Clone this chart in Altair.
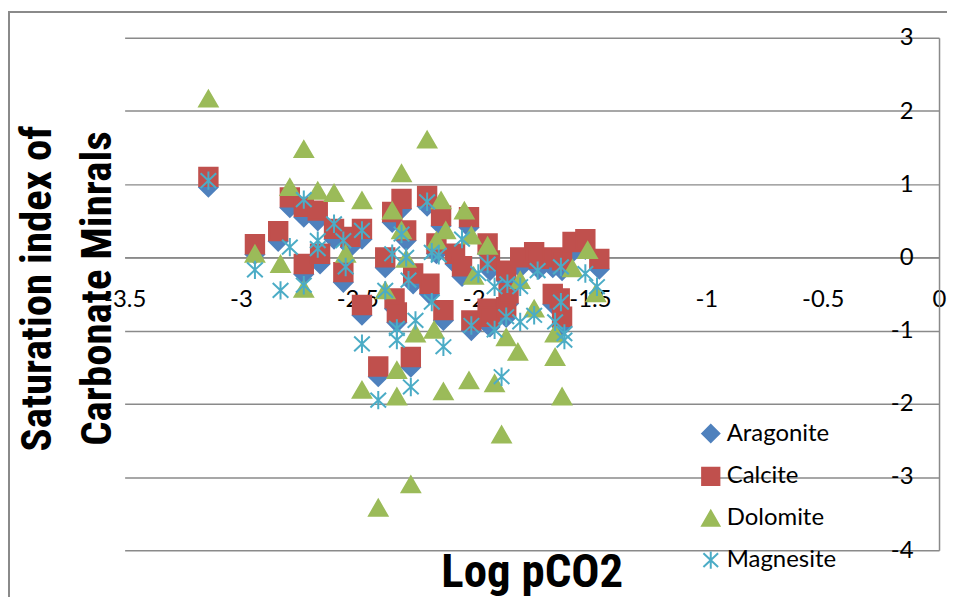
import altair as alt
import pandas as pd

minerals = ["Aragonite", "Calcite", "Dolomite", "Magnesite"]
colors_fill = ["#4F81BD", "#C0504D", "#9BBB59", "transparent"]
colors_stroke = ["#4F81BD", "#C0504D", "#9BBB59", "#4BACC6"]
asterisk = "M0,-1L0,1M-0.85,-0.8L0.85,0.8M-0.85,0.8L0.85,-0.8"
shapes = ["diamond", "square", "triangle-up", asterisk]

x_ticks = [-3.5, -3, -2.5, -2, -1.5, -1, -0.5, 0]
y_ticks = [-4, -3, -2, -1, 0, 1, 2, 3]

calc_x = [-3.14, -2.94, -2.84, -2.79, -2.73, -2.73, -2.67, -2.66, -2.60, -2.56, -2.53, -2.48, -2.48,
          -2.41, -2.38, -2.35, -2.34, -2.33, -2.31, -2.29, -2.27, -2.26, -2.20, -2.19, -2.16, -2.14,
          -2.13, -2.08, -2.05, -2.02, -2.01, -1.94, -1.94, -1.93, -1.93, -1.86, -1.86, -1.85, -1.80,
          -1.74, -1.72, -1.66, -1.66, -1.63, -1.62, -1.62, -1.575, -1.52, -1.46]
calc_y = [1.10, 0.18, 0.36, 0.82, 0.69, -0.09, 0.64, 0.05, 0.39, -0.20, 0.28, 0.39, -0.65,
          -1.49, 0.00, 0.62, -0.56, -0.75, 0.80, 0.37, -1.36, -0.22, 0.84, -0.36, 0.19, 0.57,
          -0.72, 0.05, -0.12, 0.55, -0.86, 0.19, -0.70, -0.04, -0.81, -0.18, -0.68, -0.49, 0.00,
          0.07, -0.02, 0.00, -0.50, -0.56, -0.04, -0.81, 0.21, 0.25, -0.02]

arag_x = [-3.14, -2.94, -2.84, -2.79, -2.73, -2.73, -2.67, -2.66, -2.60, -2.56, -2.53, -2.48, -2.48,
          -2.41, -2.38, -2.35, -2.34, -2.33, -2.31, -2.29, -2.27, -2.26, -2.20, -2.19, -2.16, -2.14,
          -2.13, -2.08, -2.05, -2.02, -2.01, -1.94, -1.94, -1.93, -1.93, -1.86, -1.86, -1.85, -1.80,
          -1.74, -1.72, -1.66, -1.66, -1.63, -1.62, -1.62, -1.575, -1.52, -1.46]
arag_y = [0.96, 0.04, 0.22, 0.68, 0.55, -0.23, 0.50, -0.09, 0.25, -0.34, 0.14, 0.25, -0.79,
          -1.63, -0.14, 0.48, -0.70, -0.89, 0.66, 0.23, -1.50, -0.36, 0.70, -0.50, 0.05, 0.43,
          -0.86, -0.09, -0.26, 0.41, -1.00, 0.05, -0.84, -0.18, -0.95, -0.32, -0.82, -0.63, -0.14,
          -0.07, -0.16, -0.14, -0.64, -0.70, -0.18, -0.95, 0.07, 0.11, -0.16]

dolo_x = [-3.14, -2.94, -2.83, -2.79, -2.73, -2.73, -2.67, -2.60, -2.55, -2.48, -2.48, -2.41, -2.38,
          -2.35, -2.33, -2.33, -2.31, -2.31, -2.29, -2.27, -2.25, -2.20, -2.17, -2.16, -2.14, -2.13,
          -2.12, -2.04, -2.02, -2.01, -2.00, -1.94, -1.91, -1.88, -1.86, -1.81, -1.80, -1.74, -1.65,
          -1.65, -1.62, -1.575, -1.51, -1.475]
dolo_y = [2.17, 0.05, -0.09, 0.96, 1.48, -0.43, 0.91, 0.88, 0.05, 0.78, -1.81, -3.42, -0.45,
          0.64, -1.54, -1.90, 1.15, 0.37, -0.02, -3.10, -1.04, 1.61, -0.99, 0.23, 0.78, -1.83,
          0.37, 0.64, -1.68, 0.30, -0.25, 0.16, -1.72, -2.42, -1.09, -1.29, -0.31, -0.70, -1.36,
          -1.04, -1.90, -0.15, 0.10, -0.49]

magn_x = [-3.14, -2.94, -2.83, -2.79, -2.73, -2.73, -2.67, -2.67, -2.60, -2.56, -2.55, -2.48, -2.48,
          -2.41, -2.38, -2.35, -2.33, -2.33, -2.31, -2.29, -2.27, -2.28, -2.25, -2.20, -2.18, -2.18,
          -2.15, -2.13, -2.05, -2.01, -1.98, -1.94, -1.91, -1.91, -1.88, -1.86, -1.855, -1.80, -1.80,
          -1.74, -1.725, -1.65, -1.625, -1.625, -1.61, -1.61, -1.52, -1.47]
magn_y = [1.05, -0.17, -0.45, 0.14, 0.79, -0.38, 0.23, 0.12, 0.46, 0.23, -0.13, 0.37, -1.18,
          -1.95, -0.45, 0.05, -0.97, -1.13, 0.32, 0.00, -1.77, -0.31, -0.86, 0.76, 0.07, -0.61,
          0.03, -1.22, 0.25, -0.93, -0.22, -0.09, -0.99, -0.40, -1.63, -0.81, -0.36, -0.88, -0.40,
          -0.79, -0.18, -0.88, -0.13, -0.61, -1.04, -1.13, -0.22, -0.40]

rows = []
for name, xs, ys in [("Aragonite", arag_x, arag_y), ("Calcite", calc_x, calc_y),
                     ("Dolomite", dolo_x, dolo_y), ("Magnesite", magn_x, magn_y)]:
    for xv, yv in zip(xs, ys):
        rows.append({"Mineral": name, "pco2": xv, "si": yv})
df = pd.DataFrame(rows)

W, H = 817, 514
GRAY = "#8a8a8a"
TICK_FONT = "Lato"
TITLE_FONT = "Roboto Condensed, Roboto, sans-serif"

legend = alt.Legend(orient="none", legendX=576, legendY=385, title=None,
                    labelFont=TICK_FONT, labelFontSize=24, labelColor="black",
                    symbolSize=300, symbolStrokeWidth=2, rowPadding=17,
                    padding=0, labelOffset=4)

points = alt.Chart(df).mark_point(size=340, strokeWidth=2, opacity=1).encode(
    x=alt.X("pco2:Q",
            scale=alt.Scale(domain=[-3.5, 0], nice=False, zero=False),
            axis=alt.Axis(orient="bottom", offset=-293.7, values=x_ticks,
                          labelExpr="'' + datum.value", grid=False, ticks=False, tickSize=0,
                          domainColor=GRAY, domainWidth=1.5, labelFont=TICK_FONT,
                          labelFontSize=24, labelColor="black", labelPadding=30,
                          labelFlush=False, labelOverlap=False,
                          title="Log pCO2", titleFont=TITLE_FONT, titleFontSize=47,
                          titleFontWeight="bold", titleColor="black",
                          titleX=408.5, titleY=330, titleAlign="center",
                          titleBaseline="alphabetic")),
    y=alt.Y("si:Q",
            scale=alt.Scale(domain=[-4, 3], nice=False, zero=False),
            axis=alt.Axis(orient="right", values=y_ticks, labelExpr="'' + datum.value",
                          grid=True, gridColor=GRAY, gridWidth=1.5, domainColor=GRAY,
                          domainWidth=1.5, ticks=False, tickSize=0, labelAlign="right",
                          labelBaseline="middle", labelPadding=-26, labelFont=TICK_FONT,
                          labelFontSize=24, labelColor="black", labelFlush=False,
                          labelOverlap=False,
                          title=["Saturation index of", "Carbonate Minrals"],
                          titleFont=TITLE_FONT, titleFontSize=43, titleFontWeight="bold",
                          titleColor="black", titleAngle=270, titleX=-925, titleY=251,
                          titleAlign="center", titleBaseline="top", titleLineHeight=60)),
    fill=alt.Fill("Mineral:N", scale=alt.Scale(domain=minerals, range=colors_fill), legend=legend),
    stroke=alt.Stroke("Mineral:N", scale=alt.Scale(domain=minerals, range=colors_stroke), legend=legend),
    shape=alt.Shape("Mineral:N", scale=alt.Scale(domain=minerals, range=shapes), legend=legend),
)

border_left = alt.Chart(df).mark_rule(color=GRAY, strokeWidth=2).encode(
    x=alt.value(-116.5), y=alt.value(-26), y2=alt.value(H + 80))
border_top = alt.Chart(df).mark_rule(color=GRAY, strokeWidth=2).encode(
    y=alt.value(-26), x=alt.value(-116.5), x2=alt.value(W + 30))

chart = alt.layer(border_left, border_top, points).properties(
    width=W, height=H,
    padding={"left": 117, "top": 29, "right": 8, "bottom": 46},
    autosize=alt.AutoSizeParams(type="none"),
).configure_view(stroke="transparent")

chart.save("out.html", embed_options={"renderer": "svg", "actions": False})
